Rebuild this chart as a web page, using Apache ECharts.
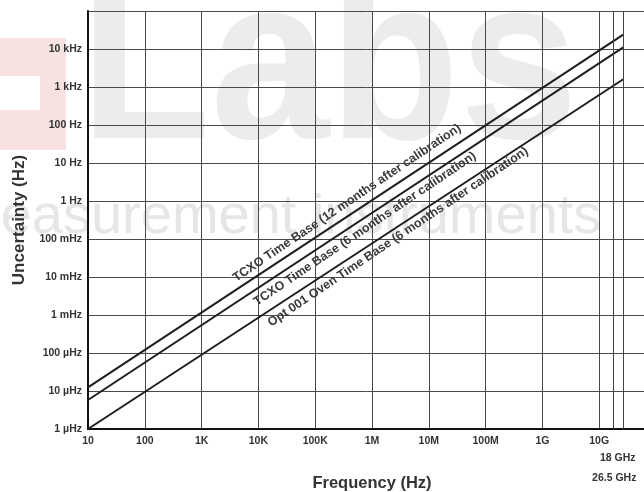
<!DOCTYPE html>
<html>
<head>
<meta charset="utf-8">
<script src="https://cdn.jsdelivr.net/npm/echarts@6/dist/echarts.min.js"></script>
<style>
html,body{margin:0;padding:0;background:#fff;overflow:hidden;}
#chart{width:644px;height:492px;}
</style>
</head>
<body>
<div id="chart"></div>
<script>
// ---- data ----
const xTickLabels = ['10','100','1K','10K','100K','1M','10M','100M','1G','10G',''];
const yTickLabels = ['1 \u00b5Hz','10 \u00b5Hz','100 \u00b5Hz','1 mHz','10 mHz','100 mHz','1 Hz','10 Hz','100 Hz','1 kHz','10 kHz',''];
const freqEnds = [10, 26.5e9];
const tcxo12 = [1.25e-5, 2.4e4];
const tcxo6 = [5.8e-6, 1.1e4];
const oven = [1e-6, 1.6e3];
const seriesNames = [
  'TCXO Time Base (12 months after calibration)',
  'TCXO Time Base (6 months after calibration)',
  'Opt 001 Oven Time Base (6 months after calibration)'
];
const labelAnchors = [[3.63e5, 0.885], [7.5e5, 0.183], [2.87e6, 0.113]];
const bandFreqs = [18e9, 26.5e9];
const bandLabels = ['18 GHz', '26.5 GHz'];

const FONT = '"Liberation Sans", Arial, Helvetica, sans-serif';
const chart = echarts.init(document.getElementById('chart'), null, {renderer: 'canvas'});

function mkSeries(name, vals, idx) {
  const s = {
    name: name,
    type: 'line',
    data: freqEnds.map((f, i) => [f, vals[i]]),
    symbol: 'none',
    lineStyle: {color: '#1e1e1e', width: 2},
    silent: true,
    z: 3,
    markPoint: {
      symbol: 'circle',
      symbolSize: 0,
      silent: true,
      data: [{coord: labelAnchors[idx], name: name}],
      label: {
        show: true, position: 'inside', formatter: name, rotate: 34,
        fontFamily: FONT, fontSize: 12.5, fontWeight: 'bold', color: '#3a3a3a'
      }
    }
  };
  if (idx === 2) {
    s.markLine = {
      symbol: ['none', 'none'],
      silent: true,
      animation: false,
      lineStyle: {color: '#444', width: 1, type: 'solid'},
      data: [
        {xAxis: bandFreqs[0], label: {padding: [0, 0, 0, 8], distance: 24}},
        {xAxis: bandFreqs[1], label: {padding: [0, 18, 0, 0], distance: 44}}
      ],
      label: {
        show: true, position: 'start',
        formatter: p => bandLabels[bandFreqs.indexOf(p.value)],
        fontFamily: FONT, fontSize: 10.5, fontWeight: 'bold', color: '#333'
      }
    };
  }
  return s;
}

const option = {
  animation: false,
  backgroundColor: '#fff',
  graphic: [
    {type: 'rect', shape: {x: 0, y: 38, width: 66, height: 112}, style: {fill: '#f8e1e1'}, z: -5, silent: true},
    {type: 'rect', shape: {x: 0, y: 76, width: 40, height: 34}, style: {fill: '#fff'}, z: -4, silent: true},
    {type: 'text', x: 80, y: 190, scaleX: 0.92, z: -5, silent: true,
      style: {text: 'Labs', font: 'bold 232px ' + FONT, fill: '#ececec', textVerticalAlign: 'bottom'}},
    {type: 'text', x: -46, y: 246, z: -5, silent: true,
      style: {text: 'measurement instruments', font: '56px ' + FONT, fill: '#e6e6e6', textVerticalAlign: 'bottom'}}
  ],
  grid: {left: 88, width: 568, top: 11, height: 418, containLabel: false, outerBoundsMode: 'none'},
  xAxis: {
    type: 'log', logBase: 10, min: 10, max: 1e11, interval: 1,
    name: 'Frequency (Hz)', nameLocation: 'middle', nameGap: 46,
    nameTextStyle: {fontFamily: FONT, fontSize: 16.5, fontWeight: 'bold', color: '#333'},
    axisLine: {show: true, lineStyle: {color: '#111', width: 2}},
    axisTick: {show: false},
    axisLabel: {
      show: true, margin: 7, fontFamily: FONT, fontSize: 10.5, fontWeight: 'bold', color: '#333',
      formatter: v => xTickLabels[Math.round(Math.log10(v)) - 1] || ''
    },
    splitLine: {show: true, lineStyle: {color: '#4a4a4a', width: 1}},
    minorSplitLine: {show: false}
  },
  yAxis: {
    type: 'log', logBase: 10, min: 1e-6, max: 1e5, interval: 1,
    name: 'Uncertainty (Hz)', nameLocation: 'middle', nameGap: 60, nameRotate: 90,
    nameTextStyle: {fontFamily: FONT, fontSize: 17, fontWeight: 'bold', color: '#333'},
    axisLine: {show: true, lineStyle: {color: '#111', width: 2}},
    axisTick: {show: false},
    axisLabel: {
      show: true, margin: 6, fontFamily: FONT, fontSize: 10.5, fontWeight: 'bold', color: '#333',
      formatter: v => yTickLabels[Math.round(Math.log10(v)) + 6] || ''
    },
    splitLine: {show: true, lineStyle: {color: '#4a4a4a', width: 1}}
  },
  series: [
    mkSeries(seriesNames[0], tcxo12, 0),
    mkSeries(seriesNames[1], tcxo6, 1),
    mkSeries(seriesNames[2], oven, 2)
  ]
};
chart.setOption(option);
</script>
</body>
</html>
